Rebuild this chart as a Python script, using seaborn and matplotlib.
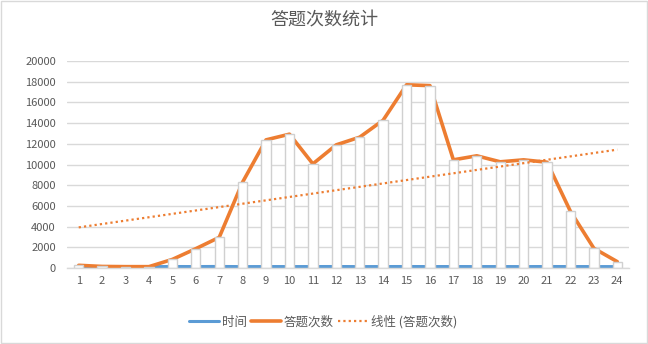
import numpy as np
import pandas as pd
import matplotlib
matplotlib.use("Agg")
import matplotlib.pyplot as plt
import seaborn as sns

hours = list(range(1, 25))
answer_counts = [260, 150, 130, 130, 830, 1865, 2960, 8300, 12380, 12930, 10060, 11900,
                 12640, 14280, 17700, 17620, 10450, 10840, 10260, 10450, 10220, 5470, 1900, 610]
time_values = [130, 140, 135, 130, 145, 140, 150, 135, 140, 138, 140, 145,
               135, 140, 145, 138, 142, 138, 140, 136, 145, 140, 138, 135]
title_text = "答题次数统计"
label_time = "时间"
label_count = "答题次数"
label_trend = "线性 (答题次数)"

sns.set_theme(style="white")
plt.rcParams["font.family"] = ["Noto Sans CJK SC", "DejaVu Sans"]

df = pd.DataFrame({"hour": hours, "count": answer_counts, "time": time_values})

fig = plt.figure(figsize=(6.48, 3.44), dpi=100)
ax = fig.add_axes([67 / 648, 1 - 268 / 344, (629 - 67) / 648, (268 - 61) / 344])

text_color = "#595959"
grid_color = "#d9d9d9"
orange = "#ED7D31"
blue = "#5B9BD5"

sns.lineplot(data=df, x="hour", y="time", color=blue, linewidth=2.2, ax=ax,
             label=label_time, zorder=2)
sns.lineplot(data=df, x="hour", y="count", color=orange, linewidth=2.6, ax=ax,
             label=label_count, zorder=2)

# hollow columns drawn over the series lines
sns.barplot(data=df, x="hour", y="count", native_scale=True, width=0.4,
            color="white", edgecolor="#d0d0d0", linewidth=1.0, ax=ax,
            errorbar=None, saturation=1)
for patch in ax.patches:
    patch.set_facecolor("white")
    patch.set_zorder(3)

# linear trend of the answer counts
slope, intercept = np.polyfit(df["hour"], df["count"], 1)
trend = intercept + slope * df["hour"]
ax.plot(df["hour"], trend, color=orange, linestyle=(0, (1, 1.4)), linewidth=1.6,
        label=label_trend, zorder=5)

ax.set_xlim(0.5, 24.5)
ax.set_ylim(0, 20000)
ax.set_yticks(range(0, 20001, 2000))
ax.set_xticks(hours)
ax.set_xticklabels([str(h) for h in hours])
ax.set_xlabel("")
ax.set_ylabel("")
ax.set_axisbelow(True)
ax.yaxis.grid(True, color=grid_color, linewidth=1.0)
for gl in ax.get_ygridlines():
    gl.set_zorder(0.5)
for side in ["top", "right", "left"]:
    ax.spines[side].set_visible(False)
ax.spines["bottom"].set_color(grid_color)
ax.spines["bottom"].set_linewidth(1.0)
ax.spines["bottom"].set_zorder(4)
ax.tick_params(axis="both", colors=text_color, labelsize=8, length=0, pad=6)
ax.tick_params(axis="y", pad=8)

fig.text(0.5, 1 - 20 / 344, title_text, ha="center", va="center", fontsize=13,
         color=text_color)

handles, labels = ax.get_legend_handles_labels()
leg = ax.legend(handles, labels, loc="center",
                bbox_to_anchor=((323 - 67) / 562, (268 - 322) / 207),
                ncol=3, frameon=False, fontsize=9, handlelength=2.4,
                columnspacing=0.3, handletextpad=0.25, labelcolor=text_color)

# light frame around the whole chart
fig.patches.append(plt.Rectangle((0.001, 0.002), 0.997, 0.995, transform=fig.transFigure,
                                 fill=False, edgecolor="#d9d9d9", linewidth=1.0))

fig.savefig("out.png", dpi=100, facecolor="white")
